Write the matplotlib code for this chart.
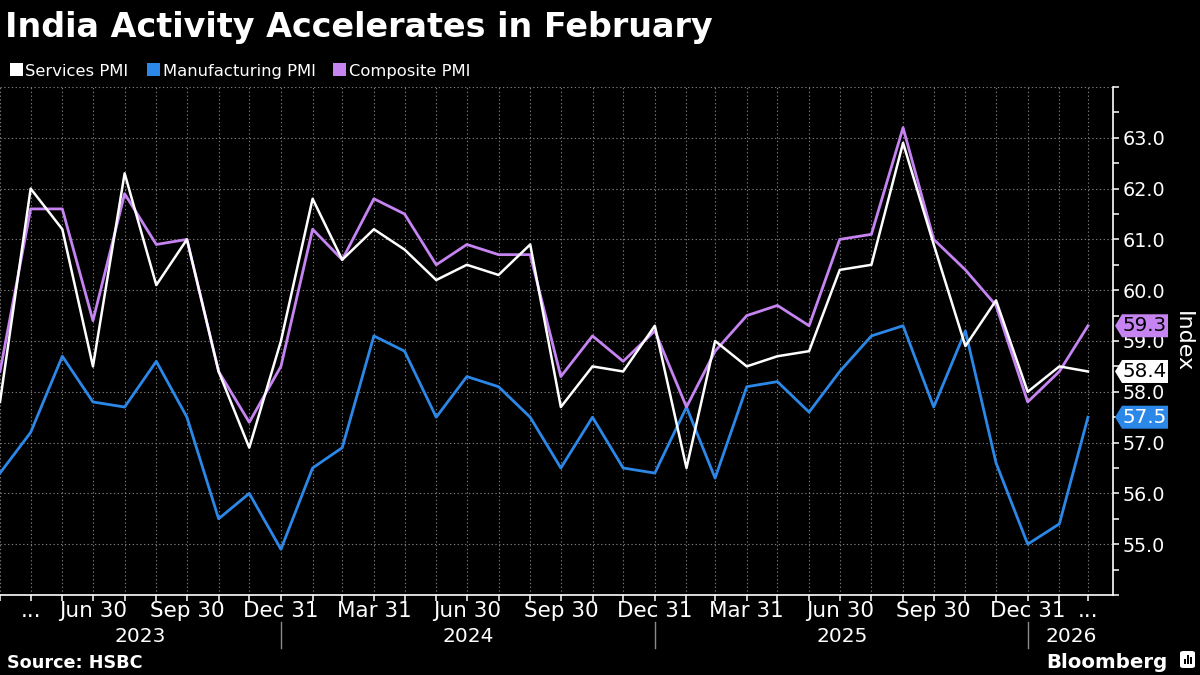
import matplotlib
matplotlib.use('Agg')
import matplotlib.pyplot as plt
import matplotlib.dates as mdates
import matplotlib.ticker as mticker
import matplotlib.transforms as mtransforms
from matplotlib.patches import Polygon, Rectangle, FancyBboxPatch
from matplotlib.lines import Line2D
import pandas as pd

# ---------------- data ----------------
months = pd.date_range('2023-03-31', '2026-02-28', freq='ME')

services = [57.8, 62.0, 61.2, 58.5, 62.3, 60.1, 61.0, 58.4, 56.9, 59.0,
            61.8, 60.6, 61.2, 60.8, 60.2, 60.5, 60.3, 60.9, 57.7, 58.5, 58.4, 59.3,
            56.5, 59.0, 58.5, 58.7, 58.8, 60.4, 60.5, 62.9, 60.9, 58.9, 59.8, 58.0,
            58.5, 58.4]
manufacturing = [56.4, 57.2, 58.7, 57.8, 57.7, 58.6, 57.5, 55.5, 56.0, 54.9,
                 56.5, 56.9, 59.1, 58.8, 57.5, 58.3, 58.1, 57.5, 56.5, 57.5, 56.5, 56.4,
                 57.7, 56.3, 58.1, 58.2, 57.6, 58.4, 59.1, 59.3, 57.7, 59.2, 56.6, 55.0,
                 55.4, 57.5]
composite = [58.4, 61.6, 61.6, 59.4, 61.9, 60.9, 61.0, 58.4, 57.4, 58.5,
             61.2, 60.6, 61.8, 61.5, 60.5, 60.9, 60.7, 60.7, 58.3, 59.1, 58.6, 59.2,
             57.7, 58.8, 59.5, 59.7, 59.3, 61.0, 61.1, 63.2, 61.0, 60.4, 59.7, 57.8,
             58.4, 59.3]

series_names = ['Services PMI', 'Manufacturing PMI', 'Composite PMI']
series_colors = ['#ffffff', '#2c88e8', '#c683f2']
tag_text_colors = ['#000000', '#ffffff', '#000000']

tick_dates = ['2023-04-30', '2023-06-30', '2023-09-30', '2023-12-31', '2024-03-31',
              '2024-06-30', '2024-09-30', '2024-12-31', '2025-03-31', '2025-06-30',
              '2025-09-30', '2025-12-31', '2026-02-28']
tick_labels = ['...', 'Jun 30', 'Sep 30', 'Dec 31', 'Mar 31', 'Jun 30', 'Sep 30',
               'Dec 31', 'Mar 31', 'Jun 30', 'Sep 30', 'Dec 31', '...']
years = [2023, 2024, 2025, 2026]
y_ticks = [55, 56, 57, 58, 59, 60, 61, 62, 63]

# ---------------- figure ----------------
W, H = 1200, 675
fig = plt.figure(figsize=(12, 6.75), dpi=100, facecolor='black')
ax_l, ax_r, ax_t, ax_b = 0, 1113, 87, 595
ax = fig.add_axes([ax_l / W, 1 - ax_b / H, (ax_r - ax_l) / W, (ax_b - ax_t) / H])
ax.set_facecolor('black')

x = mdates.date2num(months)
x0 = mdates.date2num(pd.Timestamp('2023-03-31'))
x1 = mdates.date2num(pd.Timestamp('2026-02-28')) + 24.5
ax.set_xlim(x0, x1)
ax.set_ylim(54, 64)

ax.plot(x, manufacturing, color=series_colors[1], lw=2.0, zorder=3)
ax.plot(x, composite, color=series_colors[2], lw=2.0, zorder=4)
ax.plot(x, services, color=series_colors[0], lw=1.8, zorder=5)

# spines
for s in ['left', 'top']:
    ax.spines[s].set_visible(False)
for s in ['right', 'bottom']:
    ax.spines[s].set_color('white')
    ax.spines[s].set_linewidth(1.2)

# y axis on right
ax.yaxis.tick_right()
ax.yaxis.set_major_locator(mticker.FixedLocator(y_ticks))
ax.yaxis.set_major_formatter(mticker.FormatStrFormatter('%.1f'))
ax.yaxis.set_minor_locator(mticker.FixedLocator([54 + 0.5 * i for i in range(21)
                                                  if (54 + 0.5 * i) not in y_ticks]))
ax.tick_params(axis='y', which='both', colors='white', length=4, width=1.1,
               labelsize=13.8, pad=3, direction='out')

# x axis
tick_nums = mdates.date2num(pd.to_datetime(tick_dates))
ax.xaxis.set_major_locator(mticker.FixedLocator(tick_nums))
ax.xaxis.set_major_formatter(mticker.FixedFormatter(tick_labels))
ax.xaxis.set_minor_locator(mticker.FixedLocator(x))
ax.tick_params(axis='x', which='both', colors='white', length=4, width=1.1,
               labelsize=15.5, pad=0.5, direction='out')

# grid
grid_kw = dict(color='#7a7a7a', linestyle=(0, (1.2, 2.2)), linewidth=0.8)
ax.grid(True, which='both', axis='x', **grid_kw)
for yv in y_ticks + [64]:
    ax.axhline(yv, zorder=1, **grid_kw)
ax.set_axisbelow(True)

# year labels and separators
bt = mtransforms.blended_transform_factory(ax.transData, fig.transFigure)
for yr in years:
    s = max(mdates.date2num(pd.Timestamp(f'{yr}-01-01')), x0)
    e = min(mdates.date2num(pd.Timestamp(f'{yr}-12-31')), x1)
    fig.text((s + e) / 2, 1 - 642 / H, str(yr), transform=bt, color='white',
             fontsize=14.5, ha='center', va='baseline')
for yr in years[:-1]:
    xs = mdates.date2num(pd.Timestamp(f'{yr}-12-31'))
    fig.add_artist(Line2D([xs, xs], [1 - 622 / H, 1 - 648 / H], transform=bt,
                          color='#8a8a8a', lw=1))

# value tags at right
px_per_unit = (ax_b - ax_t) / 10.0
ax_w = ax_r - ax_l
yt = ax.get_yaxis_transform()
half = 11.5 / px_per_unit
for vals, col, tcol in zip([services, manufacturing, composite], series_colors, tag_text_colors):
    v = vals[-1]
    xa = 1 + 2 / ax_w
    xb = 1 + 9 / ax_w
    xc = 1 + 55 / ax_w
    poly = Polygon([(xa, v), (xb, v + half), (xc, v + half), (xc, v - half), (xb, v - half)],
                   closed=True, transform=yt, facecolor=col, edgecolor='none',
                   clip_on=False, zorder=10)
    ax.add_patch(poly)
    ax.text(1 + 32 / ax_w, v, f'{v:.1f}', transform=yt, color=tcol, fontsize=14.3,
            ha='center', va='center', zorder=11, clip_on=False)

# axis title
fig.text(1183 / W, 1 - 342 / H, 'Index', rotation=270, color='white', fontsize=16,
         ha='center', va='center')

# title
fig.text(5 / W, 1 - 37 / H, 'India Activity Accelerates in February', color='white',
         fontsize=24, fontweight='bold', ha='left', va='baseline')

# legend
leg_sq_x = [10, 147, 333]
leg_tx_x = [25, 163, 349]
for name, col, sx, tx in zip(series_names, series_colors, leg_sq_x, leg_tx_x):
    fig.add_artist(Rectangle((sx / W, 1 - 76 / H), 13 / W, 13 / H, transform=fig.transFigure,
                             facecolor=col, edgecolor='none'))
    fig.text(tx / W, 1 - 76 / H, name, color='white', fontsize=11.8, ha='left', va='baseline')

# source
fig.text(7 / W, 1 - 668 / H, 'Source: HSBC', color='white', fontsize=12.7,
         fontweight='bold', ha='left', va='baseline')

# Bloomberg logo
fig.text(1168 / W, 1 - 668 / H, 'Bloomberg', color='white', fontsize=14.2,
         fontweight='bold', ha='right', va='baseline')
fig.add_artist(FancyBboxPatch((1180 / W, 1 - 668 / H), 15 / W, 17 / H,
                              boxstyle='round,pad=0,rounding_size=0.003',
                              transform=fig.transFigure, facecolor='white', edgecolor='none'))
for bx, bh in [(1184, 5), (1187, 9), (1190, 7)]:
    fig.add_artist(Rectangle((bx / W, 1 - 664 / H), 1.6 / W, bh / H, transform=fig.transFigure,
                             facecolor='black', edgecolor='none'))

fig.savefig('out.png', dpi=100, facecolor='black')
